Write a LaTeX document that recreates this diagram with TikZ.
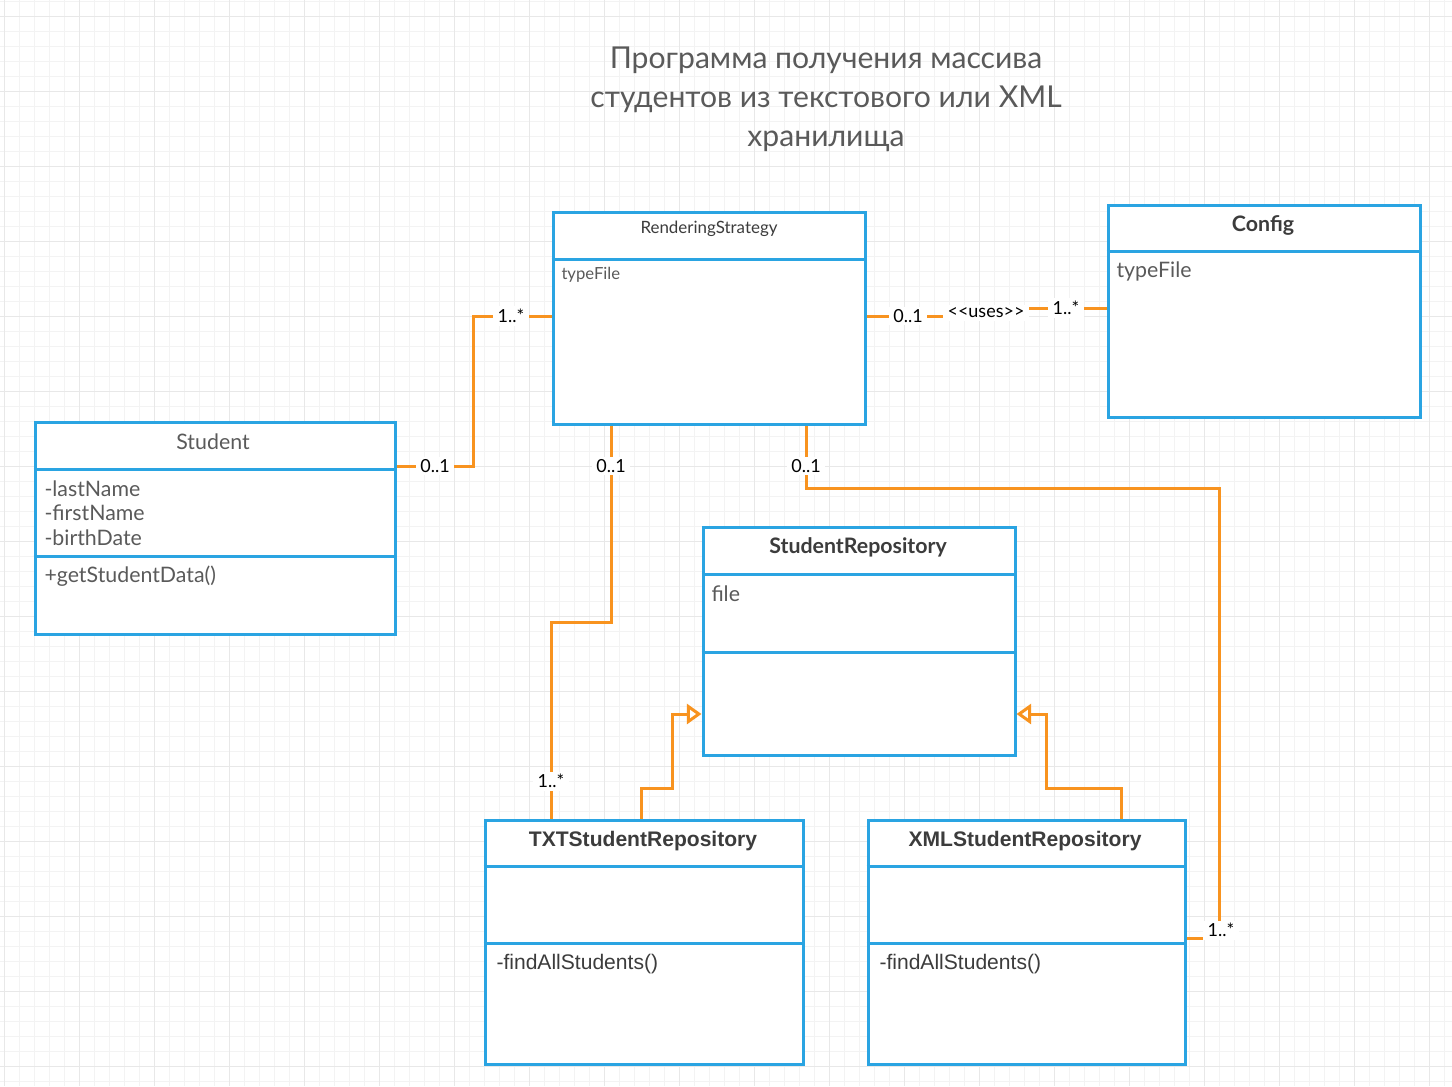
\documentclass[tikz,border=0pt]{standalone}
\usepackage{fontspec}
\setmainfont{Lato}
\newfontfamily\arialfont{Liberation Sans}
\usetikzlibrary{arrows.meta,backgrounds}
\definecolor{umlblue}{RGB}{42,164,226}
\definecolor{umlorange}{RGB}{248,147,31}
\definecolor{gridminor}{RGB}{243,243,243}
\definecolor{gridmajor}{RGB}{232,232,232}
\definecolor{headgray}{RGB}{60,60,60}
\definecolor{textgray}{RGB}{90,90,90}
\tikzset{
	umlbox/.style={draw=umlblue, fill=white, line width=2.25pt, inner sep=0pt},
	umlline/.style={draw=umlblue, line width=2.25pt},
	assoc/.style={draw=umlorange, line width=2.25pt},
	inherit/.style={assoc, -{Triangle[length=11pt,width=15pt,fill=white]}},
	mult/.style={fill=white, inner xsep=3.5pt, inner ysep=2pt, font=\fontsize{13.5}{15}\selectfont},
	boxtitle/.style={font=\fontsize{16}{18}\selectfont, text=headgray},
	member/.style={anchor=west, inner sep=0pt, font=\fontsize{16}{18}\selectfont, text=textgray}}
\tikzset{every picture/.style={line width=0.75pt}}

\begin{document}
\begin{tikzpicture}[x=0.75pt,y=0.75pt,yscale=-1,xscale=1]
	\useasboundingbox (0,0) rectangle (1452,1086);

	%Shape: Rectangle [RenderingStrategy]
	\node[umlbox, minimum width=234pt, minimum height=159pt] (rs) at (709,318) {};
	\draw[umlline] (rs.west |- 0,259) -- (rs.east |- 0,259);
	%Shape: Rectangle [Config]
	\node[umlbox, minimum width=234pt, minimum height=159pt] (config) at (1264,311) {};
	\draw[umlline] (config.west |- 0,251) -- (config.east |- 0,251);
	%Shape: Rectangle [Student]
	\node[umlbox, minimum width=270pt, minimum height=159pt] (student) at (215,528) {};
	\draw[umlline] (student.west |- 0,469) -- (student.east |- 0,469);
	\draw[umlline] (student.west |- 0,556) -- (student.east |- 0,556);
	%Shape: Rectangle [StudentRepository]
	\node[umlbox, minimum width=234pt, minimum height=171pt] (repo) at (859,641) {};
	\draw[umlline] (repo.west |- 0,574) -- (repo.east |- 0,574);
	\draw[umlline] (repo.west |- 0,652) -- (repo.east |- 0,652);
	%Shape: Rectangle [TXTStudentRepository]
	\node[umlbox, minimum width=238.5pt, minimum height=183pt] (txt) at (644,942) {};
	\draw[umlline] (txt.west |- 0,866) -- (txt.east |- 0,866);
	\draw[umlline] (txt.west |- 0,943) -- (txt.east |- 0,943);
	%Shape: Rectangle [XMLStudentRepository]
	\node[umlbox, minimum width=237.75pt, minimum height=183pt] (xml) at (1026.5,942) {};
	\draw[umlline] (xml.west |- 0,866) -- (xml.east |- 0,866);
	\draw[umlline] (xml.west |- 0,943) -- (xml.east |- 0,943);

	% Text Node
	\node[align=center, text=textgray, font=\fontsize{22.6}{29.25}\selectfont] (title) at (826,99) {Программа получения массива\\студентов из текстового или XML\\хранилища};
	% Text Node
	\node[boxtitle, font=\fontsize{12.7}{14}\selectfont] (rsname) at (709,229) {RenderingStrategy};
	\node[member, font=\fontsize{12.5}{14}\selectfont] (rsattr) at (561,275) {typeFile};
	% Text Node
	\node[boxtitle, font=\fontsize{16}{18}\selectfont\bfseries] (configname) at (1263,225) {Config};
	\node[member] (configattr) at (1116,271) {typeFile};
	% Text Node
	\node[boxtitle, text=textgray] (studentname) at (213,442) {Student};
	\node[member] (attra) at (44,489) {-lastName};
	\node[member] (attrb) at (44,513) {-firstName};
	\node[member] (attrc) at (44,538) {-birthDate};
	\node[member] (opa) at (44,576) {+getStudentData()};
	% Text Node
	\node[boxtitle, font=\fontsize{16}{18}\selectfont\bfseries] (reponame) at (858,547) {StudentRepository};
	\node[member] (repoattr) at (711,594) {file};
	% Text Node
	\node[boxtitle, font=\fontsize{15.8}{18}\selectfont\arialfont\bfseries] (txtname) at (643,841) {TXTStudentRepository};
	\node[member, font=\fontsize{15.8}{18}\selectfont\arialfont, text=headgray] (txtop) at (496,964) {-findAllStudents()};
	% Text Node
	\node[boxtitle, font=\fontsize{15.8}{18}\selectfont\arialfont\bfseries] (xmlname) at (1025,841) {XMLStudentRepository};
	\node[member, font=\fontsize{15.8}{18}\selectfont\arialfont, text=headgray] (xmlop) at (879,964) {-findAllStudents()};

	% multiplicities
	\node[mult] (m1) at (435,466) {0..1};
	\node[mult] (m2) at (511,316) {1..*};
	\node[mult] (m3) at (908,316) {0..1};
	\node[mult, font=\fontsize{13.5}{15}\selectfont] (u1) at (986,313) {\textless\kern0pt\textless uses\textgreater\kern0pt\textgreater};
	\node[mult] (m5) at (1066,308) {1..*};
	\node[mult] (m6) at (611,466) {0..1};
	\node[mult] (m7) at (806,466) {0..1};
	\node[mult] (m8) at (551,781) {1..*};
	\node[mult] (m9) at (1221,930) {1..*};

	% bends
	\coordinate (b1) at (473,391);
	\coordinate (b3) at (551,622);
	\coordinate (b4) at (1219,488);
	\coordinate (b5) at (1219,938);
	\coordinate (b6) at (641,788);
	\coordinate (b7) at (672,714);
	\coordinate (b8) at (1121,788);
	\coordinate (b9) at (1046,714);

	\begin{pgfonlayer}{background}
	\fill[white] (0,0) rectangle (1452,1086);
	% grid
	\foreach \x in {4,19,...,1444} \draw[gridminor] (\x,0) -- (\x,1086);
	\foreach \y in {1,16,...,1081} \draw[gridminor] (0,\y) -- (1452,\y);
	\foreach \x in {4,79,...,1429} \draw[gridmajor] (\x,0) -- (\x,1086);
	\foreach \y in {16,91,...,1066} \draw[gridmajor] (0,\y) -- (1452,\y);
	% associations
	\draw[assoc] (student.east |- m1) -| (b1) |- (rs.west |- m2);
	\draw[assoc] (rs.east |- m3) -| (u1) |- (config.west |- m5);
	\draw[assoc] (rs.south -| m6) |- (b3) -- (txt.north -| m8);
	\draw[assoc] (rs.south -| m7) |- (b4) -- (b5) -- (xml.east |- b5);
	% generalizations
	\draw[inherit] (txt.north -| b6) -- (b6) -| (b7) -- (repo.west |- b7);
	\draw[inherit] (xml.north -| b8) -- (b8) -| (b9) -- (repo.east |- b9);
	\end{pgfonlayer}

\end{tikzpicture}
\end{document}
